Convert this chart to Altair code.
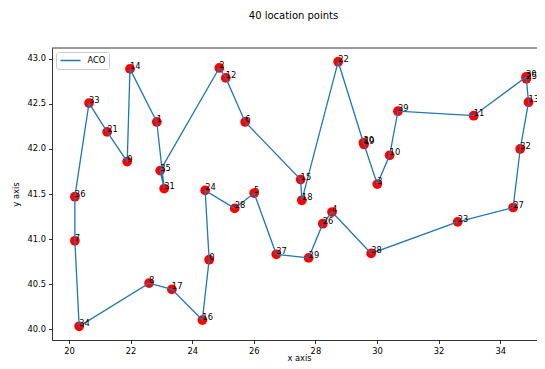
import altair as alt
import pandas as pd

# node coordinates (index = node id)
node_x = [24.55, 22.85, 24.88, 30.01, 28.54, 26.01, 25.72, 20.19, 22.60, 21.89,
          30.41, 33.14, 25.09, 34.92, 21.98, 27.52, 24.33, 23.34, 27.56, 29.58,
          29.56, 21.24, 28.74, 32.62, 24.42, 34.85, 28.24, 34.42, 25.38, 27.78,
          34.84, 23.09, 34.65, 20.65, 20.33, 22.96, 20.19, 26.73, 29.81, 30.68]
node_y = [40.77, 42.30, 42.90, 41.61, 41.30, 41.51, 42.30, 40.98, 40.51, 41.86,
          41.93, 42.37, 42.79, 42.52, 42.89, 41.66, 40.10, 40.44, 41.43, 42.05,
          42.07, 42.19, 42.97, 41.19, 41.54, 42.78, 41.17, 41.35, 41.34, 40.79,
          42.80, 41.56, 42.00, 42.51, 40.03, 41.76, 41.47, 40.83, 40.84, 42.42]

# ACO tour order
tour = [36, 33, 21, 9, 14, 1, 31, 35, 2, 12, 6, 15, 18, 22, 20, 19, 3, 10, 39, 11,
        30, 25, 13, 32, 27, 23, 38, 4, 26, 29, 37, 5, 28, 24, 0, 16, 17, 8, 34, 7]

x_ticks = [20, 22, 24, 26, 28, 30, 32, 34]
y_ticks = [40.0, 40.5, 41.0, 41.5, 42.0, 42.5, 43.0]

pts = pd.DataFrame({"id": [str(i) for i in range(len(node_x))], "x": node_x, "y": node_y})
path_ids = tour + [tour[0]]
line_df = pd.DataFrame({
    "step": list(range(len(path_ids))),
    "x": [node_x[i] for i in path_ids],
    "y": [node_y[i] for i in path_ids],
    "series": ["ACO"] * len(path_ids),
})

W, H = 485, 292
FS = 8.33

xs = alt.Scale(domain=[19.448, 35.195], nice=False, zero=False)
ys = alt.Scale(domain=[39.878, 43.122], nice=False, zero=False)

xenc = alt.X("x:Q", scale=xs, title="x axis",
             axis=alt.Axis(values=x_ticks, format="d", grid=False,
                           titleX=247, titleY=20.5, titleBaseline="alphabetic"))
yenc = alt.Y("y:Q", scale=ys, title="y axis",
             axis=alt.Axis(values=y_ticks, format=".1f", grid=False,
                           titleX=-33.5, titleY=H / 2, titleAngle=270,
                           titleAlign="center", titleBaseline="alphabetic"))

points = alt.Chart(pts).mark_circle(color="red", opacity=1, size=95).encode(x=xenc, y=yenc)

line = alt.Chart(line_df).mark_line(strokeWidth=1.3).encode(
    x=alt.X("x:Q", scale=xs),
    y=alt.Y("y:Q", scale=ys),
    order="step:Q",
    color=alt.Color("series:N", scale=alt.Scale(domain=["ACO"], range=["#1f77b4"]),
                    legend=alt.Legend(title=None, orient="top-left", offset=4,
                                      symbolType="stroke", symbolSize=400,
                                      symbolStrokeWidth=1.3, clipHeight=10,
                                      padding=3.5, labelOffset=6,
                                      fillColor="white", strokeColor="#cccccc",
                                      cornerRadius=2, labelFontSize=FS,
                                      labelColor="black", labelFont="DejaVu Sans")),
)

labels = alt.Chart(pts).mark_text(align="left", baseline="alphabetic", fontSize=FS,
                                  font="DejaVu Sans", color="black").encode(
    x=alt.X("x:Q", scale=xs), y=alt.Y("y:Q", scale=ys), text="id:N")

top_spine = alt.Chart(pd.DataFrame({"k": [0]})).mark_rule(color="black", strokeWidth=0.8).encode(
    x=alt.value(0), x2=alt.value(W), y=alt.value(0))

chart = alt.layer(points, line, labels, top_spine).properties(
    width=W, height=H,
    autosize=alt.AutoSizeParams(type="none"),
    padding={"left": 44, "top": 40, "right": 0, "bottom": 21},
    title=alt.TitleParams("40 location points", fontSize=10, font="DejaVu Sans",
                          fontWeight="normal", color="black", anchor="middle",
                          frame="group", baseline="alphabetic", offset=19, dx=-1),
).configure_view(stroke=None).configure_axis(
    domainColor="black", domainWidth=0.8, tickColor="black", tickWidth=0.8,
    tickSize=3.5, labelPadding=3, labelFontSize=FS, labelFont="DejaVu Sans",
    labelColor="black", titleFontSize=FS, titleFont="DejaVu Sans",
    titleFontWeight="normal", titleColor="black"
)

chart.save("out.html", embed_options={"renderer": "svg", "actions": False})
